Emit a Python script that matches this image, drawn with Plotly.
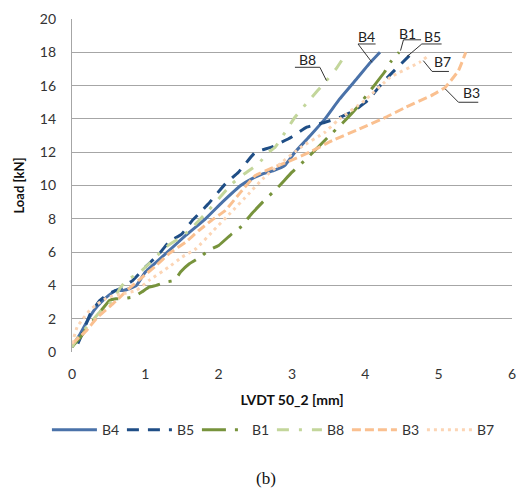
import plotly.graph_objects as go

# ---- data ----
b4_x = [0, 0.1, 0.2, 0.3, 0.4, 0.5, 0.6, 0.7, 0.78, 0.88, 1.0, 1.15, 1.3, 1.55, 1.82, 2.05, 2.3, 2.45, 2.6, 2.75, 2.9, 3.04, 3.25, 3.45, 3.65, 3.9, 4.05, 4.2]
b4_y = [0.3, 1.0, 1.8, 2.5, 3.0, 3.4, 3.7, 3.7, 3.8, 4.0, 4.8, 5.4, 6.0, 7.0, 8.0, 9.0, 10.0, 10.4, 10.7, 10.9, 11.2, 12.0, 13.0, 14.0, 15.2, 16.5, 17.3, 18.0]

b5_x = [0.08, 0.15, 0.25, 0.38, 0.5, 0.65, 0.83, 1.0, 1.19, 1.32, 1.5, 1.64, 1.73, 1.86, 2.09, 2.27, 2.5, 2.72, 2.99, 3.2, 3.45, 3.66, 3.85, 4.03, 4.26, 4.6]
b5_y = [0.5, 1.2, 2.3, 3.1, 3.5, 3.8, 4.3, 5.1, 5.9, 6.6, 7.1, 7.9, 8.3, 8.9, 10.1, 10.8, 12.0, 12.3, 12.9, 13.5, 13.8, 14.1, 14.5, 15.1, 16.3, 17.8]

b1_x = [0, 0.1, 0.2, 0.29, 0.4, 0.51, 0.6, 0.69, 0.83, 0.95, 1.05, 1.15, 1.28, 1.4, 1.48, 1.6, 1.75, 1.86, 2.0, 2.18, 2.3, 2.45, 2.6, 2.81, 3.0, 3.22, 3.49, 3.7, 3.89, 4.12, 4.26, 4.34, 4.46]
b1_y = [0.3, 0.8, 1.4, 1.9, 2.5, 3.1, 3.2, 3.2, 3.3, 3.6, 3.9, 4.0, 4.2, 4.3, 4.8, 5.3, 5.7, 6.1, 6.4, 7.1, 7.5, 8.3, 9.0, 9.9, 10.8, 11.7, 12.9, 13.8, 14.7, 16.0, 16.8, 17.4, 18.0]

b8_x = [0, 0.1, 0.24, 0.4, 0.56, 0.65, 0.74, 0.9, 1.05, 1.28, 1.45, 1.6, 1.86, 2.0, 2.18, 2.35, 2.54, 2.68, 2.77, 3.04, 3.25, 3.45, 3.6, 3.72]
b8_y = [0.3, 1.0, 1.7, 2.5, 3.1, 3.8, 4.3, 4.7, 5.3, 6.3, 6.8, 7.3, 8.5, 9.2, 10.1, 10.7, 11.3, 12.0, 12.3, 14.1, 15.2, 16.2, 17.0, 17.8]

b3_x = [0, 0.1, 0.2, 0.35, 0.56, 0.75, 0.96, 1.15, 1.32, 1.55, 1.73, 1.9, 2.09, 2.3, 2.5, 2.7, 2.93, 3.24, 3.55, 3.92, 4.28, 4.55, 4.9, 5.09, 5.27, 5.37]
b3_y = [0.5, 0.9, 1.3, 2.1, 2.9, 3.7, 4.5, 5.2, 5.9, 6.6, 7.3, 7.9, 8.5, 9.6, 10.6, 11.0, 11.4, 12.0, 12.7, 13.4, 14.1, 14.7, 15.4, 15.9, 16.9, 18.0]

b7_x = [0, 0.07, 0.15, 0.24, 0.35, 0.5, 0.7, 0.88, 1.05, 1.32, 1.5, 1.69, 1.93, 2.15, 2.41, 2.6, 2.81, 3.12, 3.45, 3.62, 3.99, 4.34, 4.74, 4.86]
b7_y = [0.5, 1.5, 2.0, 2.5, 2.9, 3.3, 3.5, 3.7, 4.3, 5.1, 5.7, 6.2, 7.3, 8.3, 9.5, 10.4, 11.2, 12.3, 13.2, 13.9, 15.1, 16.5, 17.4, 17.8]

series_names = ["B4", "B5", "B1", "B8", "B3", "B7"]
series_x = [b4_x, b5_x, b1_x, b8_x, b3_x, b7_x]
series_y = [b4_y, b5_y, b1_y, b8_y, b3_y, b7_y]
colors = ["#4A72A9", "#1F4E86", "#77933C", "#C3D69B", "#FAC090", "#FCD5B5"]
dashes = ["solid", "12px,9px", "24px,9px,3px,9px", "12px,10px,3px,10px", "9px,4px", "3px,4px"]

x_ticks = [0, 1, 2, 3, 4, 5, 6]
y_ticks = [0, 2, 4, 6, 8, 10, 12, 14, 16, 18, 20]

# label positions: (text x, text y, underline x0, x1, underline y, leader end x, leader end y, leader start side)
labels = {
    "B4": (4.02, 18.95, 3.9, 4.14, 18.5, 4.09, 17.4, "left"),
    "B1": (4.58, 19.15, 4.52, 4.76, 18.75, 4.48, 18.1, "left"),
    "B5": (4.91, 18.95, 4.77, 5.04, 18.5, 4.57, 17.75, "left"),
    "B8": (3.21, 17.55, 3.04, 3.38, 17.1, 3.47, 16.3, "right"),
    "B7": (5.05, 17.45, 4.91, 5.14, 16.85, 4.79, 17.5, "left"),
    "B3": (5.45, 15.6, 5.27, 5.54, 15.0, 5.09, 15.8, "left"),
}

fig = go.Figure()
for name, xs, ys, c, d in zip(series_names, series_x, series_y, colors, dashes):
    fig.add_trace(go.Scatter(
        x=xs, y=ys, mode="lines", name=name,
        line=dict(color=c, width=3, dash=d, shape="spline", smoothing=0.3),
    ))

shapes = []
annotations = []
for name, (tx, ty, u0, u1, uy, lx, ly, side) in labels.items():
    annotations.append(dict(x=tx, y=ty, xref="x", yref="y", text=name, showarrow=False,
                            font=dict(family="Lato, sans-serif", size=14, color="#222222")))
    shapes.append(dict(type="line", xref="x", yref="y", x0=u0, x1=u1, y0=uy, y1=uy,
                       line=dict(color="#333333", width=1)))
    sx = u0 if side == "left" else u1
    shapes.append(dict(type="line", xref="x", yref="y", x0=sx, y0=uy, x1=lx, y1=ly,
                       line=dict(color="#333333", width=1)))

annotations.append(dict(x=0.44, y=-0.38, xref="paper", yref="paper",
                        xanchor="center", yanchor="middle", text="(b)", showarrow=False,
                        font=dict(family="Liberation Serif, serif", size=17, color="#111111")))

fig.update_layout(
    width=525, height=489,
    margin=dict(l=72, r=9, t=19, b=137),
    paper_bgcolor="white", plot_bgcolor="white",
    font=dict(family="Lato, sans-serif", size=14, color="#333333"),
    showlegend=True,
    legend=dict(orientation="h", x=-0.057, xanchor="left", y=-0.235, yanchor="middle",
                font=dict(size=14, color="#333333"), entrywidth=15, entrywidthmode="pixels",
                itemwidth=45, traceorder="normal"),
    shapes=shapes, annotations=annotations,
)
fig.update_xaxes(range=[0, 6], tickvals=x_ticks, showgrid=False, zeroline=False,
                 showline=False, ticks="", ticklen=0, ticklabelstandoff=12,
                 title=dict(text="<b>LVDT 50_2 [mm]</b>", font=dict(size=14, color="#111111"), standoff=14))
fig.update_yaxes(range=[0, 20], tickvals=y_ticks, showgrid=True, gridcolor="#A6A6A6", gridwidth=1.3,
                 zeroline=False, showline=True, linecolor="#A6A6A6", linewidth=1.3, ticks="",
                 ticklabelstandoff=12,
                 title=dict(text="<b>Load [kN]</b>", font=dict(size=13, color="#111111"), standoff=12))

fig.write_html("out.html", config={"displayModeBar": False},
               post_script="document.body.style.margin='0';document.body.style.padding='0';")
